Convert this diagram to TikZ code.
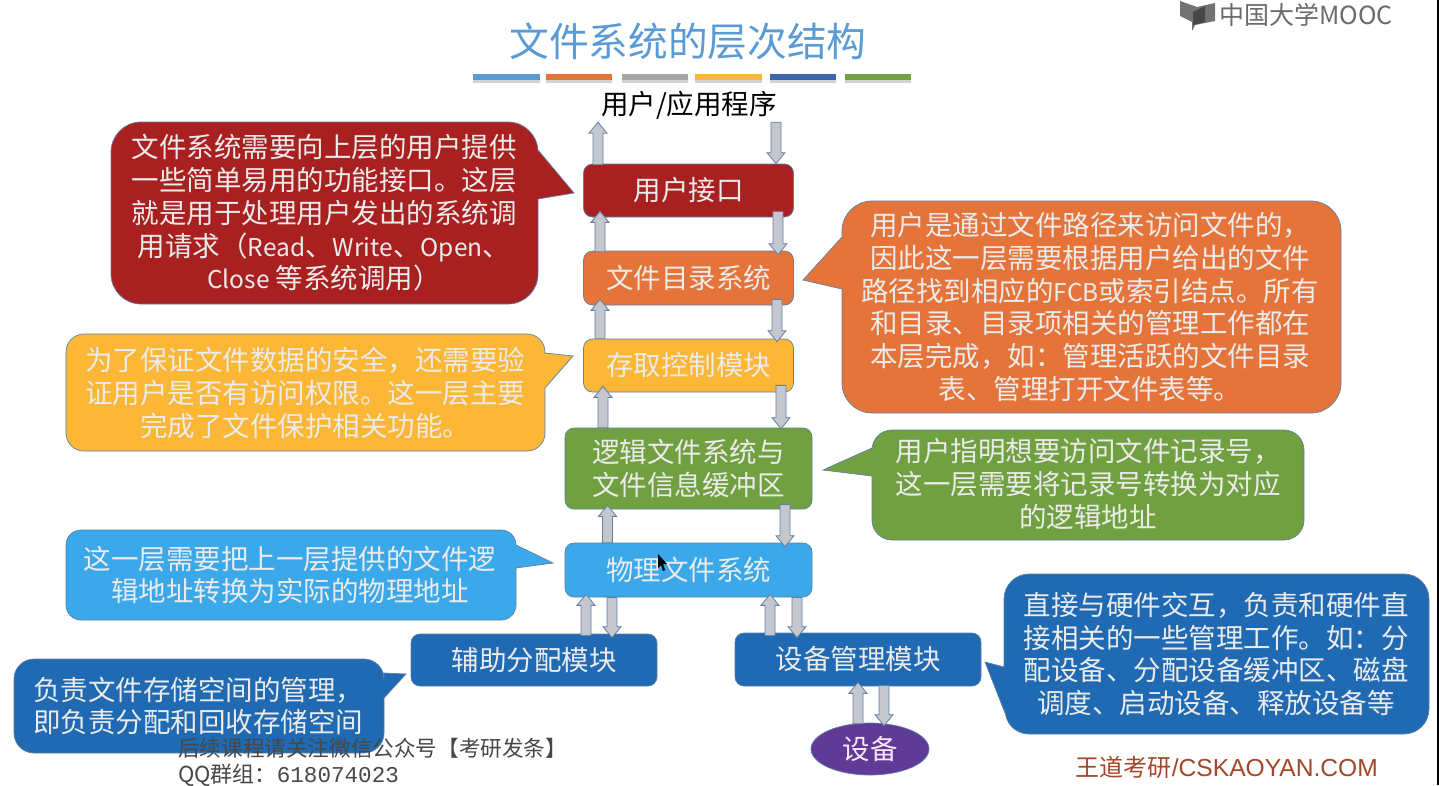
\documentclass[tikz,border=0pt]{standalone}
\usepackage{fontspec}
\usetikzlibrary{calc,shapes.geometric}
\setmainfont{Noto Sans CJK SC}
\newfontfamily\latinsans{Liberation Sans}
\newfontfamily\latinmono{Liberation Mono}
\definecolor{cRed}{HTML}{A92020}
\definecolor{cOrange}{HTML}{E5743A}
\definecolor{cYellow}{HTML}{FBB735}
\definecolor{cGreen}{HTML}{70A040}
\definecolor{cSky}{HTML}{3BA8EA}
\definecolor{cNavy}{HTML}{1F6AB3}
\definecolor{cPurple}{HTML}{5F3A96}
\definecolor{cEdge}{HTML}{5F7FA6}
\definecolor{cShaft}{HTML}{C4C8CE}
\definecolor{cTitle}{HTML}{5B9BD5}
\definecolor{cRule}{HTML}{3E66AE}
\definecolor{cBrand}{HTML}{A5452A}
\tikzset{
  layerbox/.style={draw=cEdge,line width=.7pt,rounded corners=9pt,inner sep=0pt,text=white!92!black,font=\fontsize{27.5}{32.7}\selectfont,align=center},
  bubble/.style={draw=cEdge,line width=.7pt},
  bubbletext/.style={text=white!92!black,font=\fontsize{27.5}{32.7}\selectfont,align=center,inner sep=0pt},
  flowarrow/.style={draw=cEdge,line width=.8pt,fill=cShaft},
}
% Latin words inside the Chinese paragraphs run a little smaller
\newcommand\smallword[1]{{\fontsize{24.5}{32.7}\selectfont #1}}
% Vertical block arrow: x position, start node anchor and offset, end node anchor and offset
\newcommand\flow[5]{%
  \draw[flowarrow] let \p1=($(#1,0 |- #2)+(0,#3)$), \p2=($(#1,0 |- #4)+(0,#5)$),
    \n1={(\y2>\y1?1:-1)*11} in
    (\x1-5pt,\y1) -- (\x1-5pt,\y2-\n1) -- (\x1-9pt,\y2-\n1) -- (\x1,\y2)
    -- (\x1+9pt,\y2-\n1) -- (\x1+5pt,\y2-\n1) -- (\x1+5pt,\y1) -- cycle;}
\begin{document}
\begin{tikzpicture}[x=1pt,y=-1pt]
\useasboundingbox (0,0) rectangle (1439,785);
\fill[white] (0,0) rectangle (1439,785);
\fill[black] (1437,0) rectangle (1439,785);

% Heading and its coloured rule
\node[text=cTitle,font=\fontsize{39.7}{46}\selectfont,inner sep=0pt] (title) at (688,41) {文件系统的层次结构};
\foreach \a/\b/\c in {473/540/cTitle,546/612/cOrange,622/688/black!35,695/762/cYellow,770/836/cRule,845/911/cGreen}{
  \fill[black,opacity=.18] (\a,77) rectangle (\b,83);
  \fill[\c] (\a,74) rectangle (\b,80);
}

% Publisher mark
\fill[black!55] (1180,1) -- (1197,7) -- (1215,3) -- (1215,21) -- (1195,25) -- (1192,31) -- (1192,22) -- (1180,16) -- cycle;
\fill[black!72] (1193,12) -- (1205,6) -- (1205,22) -- (1193,25) -- cycle;
\node[text=black!58,font=\fontsize{25}{27}\selectfont,anchor=west,inner sep=0pt] (mooc) at (1219,15) {中国大学MOOC};

% Speech bubbles
\draw[bubble,fill=cRed,rounded corners=30pt] (111,122) -- (538,122) [sharp corners] -- (538,150) -- (574,193) -- (538,199) [rounded corners=30pt] -- (538,304) -- (111,304) -- cycle;
\node[bubbletext] (redtext) at (324,213) {文件系统需要向上层的用户提供\\一些简单易用的功能接口。这层\\就是用于处理用户发出的系统调\\用请求（\smallword{Read}、\smallword{Write}、\smallword{Open}、\\\smallword{Close} 等系统调用）};

\draw[bubble,fill=cOrange,rounded corners=30pt] (842,201) -- (1341,201) -- (1341,413) -- (842,413) [sharp corners] -- (842,289) -- (803,280) -- (842,237) [rounded corners=30pt] -- cycle;
\node[bubbletext] (orangetext) at (1090,307) {用户是通过文件路径来访问文件的，\\因此这一层需要根据用户给出的文件\\路径找到相应的\smallword{FCB}或索引结点。所有\\和目录、目录项相关的管理工作都在\\本层完成，如：管理活跃的文件目录\\表、管理打开文件表等。};

\draw[bubble,fill=cYellow,rounded corners=18pt] (66,334) -- (545,334) [sharp corners] -- (545,353) -- (573,356) -- (545,388) [rounded corners=18pt] -- (545,451) -- (66,451) -- cycle;
\node[bubbletext] (yellowtext) at (305,393) {为了保证文件数据的安全，还需要验\\证用户是否有访问权限。这一层主要\\完成了文件保护相关功能。};

\draw[bubble,fill=cGreen,rounded corners=20pt] (872,430) -- (1304,430) -- (1304,540) -- (872,540) [sharp corners] -- (872,476) -- (823,470) -- (872,448) [rounded corners=20pt] -- cycle;
\node[bubbletext] (greentext) at (1088,484) {用户指明想要访问文件记录号，\\这一层需要将记录号转换为对应\\的逻辑地址};

\draw[bubble,fill=cSky,rounded corners=15pt] (66,530) -- (516,530) [sharp corners] -- (516,545) -- (553,563) -- (516,568) [rounded corners=15pt] -- (516,620) -- (66,620) -- cycle;
\node[bubbletext] (skytext) at (290,575) {这一层需要把上一层提供的文件逻\\辑地址转换为实际的物理地址};

\draw[bubble,fill=cNavy,rounded corners=20pt] (14,659) -- (384,659) [sharp corners] -- (384,673) -- (406,674) -- (384,698) [rounded corners=20pt] -- (384,753) -- (14,753) -- cycle;
\node[bubbletext] (navytext) at (198,706) {负责文件存储空间的管理，\\即负责分配和回收存储空间};

\draw[bubble,fill=cNavy,rounded corners=25pt] (1004,574) -- (1429,574) -- (1429,734) -- (1004,734) [sharp corners] -- (1005,713) -- (985,662) -- (1004,667) [rounded corners=25pt] -- cycle;
\node[bubbletext] (devtext) at (1216,654) {直接与硬件交互，负责和硬件直\\接相关的一些管理工作。如：分\\配设备、分配设备缓冲区、磁盘\\调度、启动设备、释放设备等};

% Layer boxes
\node[black,font=\fontsize{27.5}{30}\selectfont,inner sep=0pt,minimum height=32pt] (app) at (689,105) {用户/应用程序};
\node[layerbox,fill=cRed,minimum width=210pt,minimum height=53pt] (ui) at (688.5,190.5) {用户接口};
\node[layerbox,fill=cOrange,minimum width=210pt,minimum height=54pt] (dir) at (688.5,278) {文件目录系统};
\node[layerbox,fill=cYellow,minimum width=210pt,minimum height=53pt] (acc) at (688.5,365.5) {存取控制模块};
\node[layerbox,fill=cGreen,minimum width=247pt,minimum height=81pt] (log) at (688.5,468.5) {逻辑文件系统与\\文件信息缓冲区};
\node[layerbox,fill=cSky,minimum width=247pt,minimum height=54pt] (phy) at (688.5,570) {物理文件系统};
\node[layerbox,fill=cNavy,minimum width=246pt,minimum height=52pt] (aux) at (534,660) {辅助分配模块};
\node[layerbox,fill=cNavy,minimum width=246pt,minimum height=53pt] (mgr) at (858,659.5) {设备管理模块};
\node[ellipse,draw=cEdge,line width=.7pt,fill=cPurple,text=white!90!magenta,inner sep=0pt,minimum width=118pt,minimum height=52pt,font=\fontsize{27.5}{30}\selectfont] (dev) at (870,749) {设备};

% Calls going down and results coming back up
\flow{598}{ui.north}{1}{app.south}{1}
\flow{776}{app.south}{1}{ui.north}{0}
\flow{600}{dir.north}{1}{ui.south}{-6}
\flow{778}{ui.south}{-6}{dir.north}{4}
\flow{600}{acc.north}{0}{dir.south}{-6}
\flow{777}{dir.south}{-6}{acc.north}{3}
\flow{603}{log.north}{0}{acc.south}{-6}
\flow{781}{acc.south}{-7}{log.north}{1}
\flow{607.5}{phy.north}{0}{log.south}{-4}
\flow{785}{log.south}{-5}{phy.north}{4}
\flow{586}{aux.north}{2}{phy.south}{-3}
\flow{612}{phy.south}{0}{aux.north}{4}
\flow{770}{mgr.north}{3}{phy.south}{-3}
\flow{797}{phy.south}{0}{mgr.north}{5}
\flow{858}{dev.north}{1}{mgr.south}{-4}
\flow{884}{mgr.south}{-1}{dev.north}{3}

% Pointer resting on the physical layer box
\fill[black] (658,554) -- (658,568) -- (661,565) -- (663,571) -- (665,570) -- (663,564) -- (667,564) -- cycle;

% Footer notes
\node[text=black!72,font=\fontsize{21.6}{26}\selectfont,anchor=west,inner sep=0pt] (wx) at (178,748) {后续课程请关注微信公众号【考研发条】};
\node[text=black!72,font=\fontsize{22}{26}\selectfont,anchor=west,inner sep=0pt] (qq) at (178,775) {QQ群组：{\latinmono\fontsize{22.6}{26}\selectfont 618074023}};
\node[text=cBrand,font=\fontsize{24}{28}\selectfont,anchor=east,inner sep=0pt] (brand) at (1378,767) {王道考研{\latinsans\fontsize{24.6}{28}\selectfont /CSKAOYAN.COM}};
\end{tikzpicture}
\end{document}
